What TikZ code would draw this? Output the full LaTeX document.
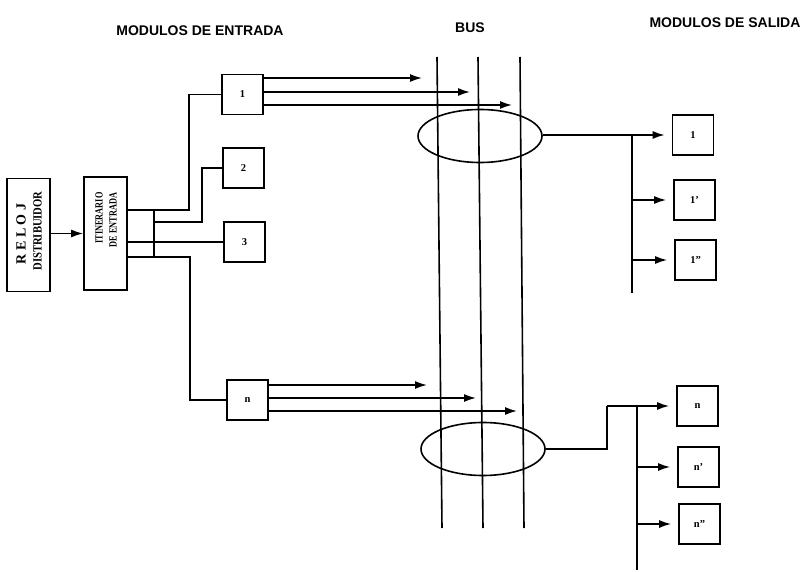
\documentclass[tikz,border=0pt]{standalone}
\usepackage{fontspec}
\setmainfont{Liberation Serif}
\newfontfamily\titlefont{Liberation Sans}
\usepackage{graphicx}
\usetikzlibrary{arrows.meta,shapes.geometric}
\begin{document}
\begin{tikzpicture}[x=1pt,y=-1pt,line width=1.6pt,
  box/.style={draw,rectangle,inner sep=0pt,minimum width=41pt,minimum height=40pt,font=\bfseries\fontsize{10.5}{12}\selectfont},
  tall/.style={draw,rectangle,inner sep=0pt,minimum width=43pt,minimum height=113pt},
  title/.style={font=\titlefont\bfseries\fontsize{14}{16}\selectfont,inner sep=0pt},
  vtext/.style={rotate=90,inner sep=0pt},
  ring/.style={draw,ellipse,inner sep=0pt,minimum width=124pt,minimum height=53pt},
  arr/.style={-{Latex[length=12pt,width=8pt]}},
  outarr/.style={arr,shorten >=7pt}]
\useasboundingbox (0,0) rectangle (801,572);

% titles
\node[title] (tin) at (200,31) {MODULOS DE ENTRADA};
\node[title] (tbus) at (470,28) {BUS};
\node[title] (tout) at (725,23) {MODULOS DE SALIDA};

% left blocks
\node[tall] (reloj) at (28.5,235) {};
\node[vtext,font=\bfseries\fontsize{14}{15}\selectfont] (rl) at (21,234) {R E L O J};
\node[vtext,font=\bfseries\fontsize{12.5}{13}\selectfont] (ds) at (37.5,231) {\scalebox{0.85}[1]{DISTRIBUIDOR}};
\node[tall] (itin) at (105.5,233.5) {};
\node[vtext,font=\bfseries\fontsize{11}{12}\selectfont] (it1) at (99,218) {\scalebox{0.75}[1]{ITINERARIO}};
\node[vtext,font=\bfseries\fontsize{11}{12}\selectfont] (it2) at (113,220) {\scalebox{0.75}[1]{DE ENTRADA}};
\draw[arr] (reloj.east |- itin) -- (itin.west);

% input modules
\node[box] (b1) at (242.5,94.5) {1};
\node[box] (b2) at (243.5,168) {2};
\node[box] (b3) at (244.5,242) {3};
\node[box] (bn) at (247.5,400) {n};

% connections from itinerario
\coordinate (j1) at (154,210);
\coordinate (j2) at (154,257);
\coordinate (k1) at (189,210);
\coordinate (k2) at (190,257);
\coordinate (m2) at (154,222);
\coordinate (k3) at (202,222);
\draw (itin.east |- j1) -- (k1) |- (b1.west);
\draw (j1) -- (j2);
\draw (itin.east |- j2) -- (k2) |- (bn.west);
\draw (m2) -- (k3) |- (b2.west);
\draw (itin.east |- b3) -- (b3.west);

% bus lines
\coordinate (bt1) at (437,57);  \coordinate (bb1) at (442,528);
\coordinate (bt2) at (478,57);  \coordinate (bb2) at (483,528);
\coordinate (bt3) at (520,57);  \coordinate (bb3) at (524,528);
\draw (bt1) -- (bb1);
\draw (bt2) -- (bb2);
\draw (bt3) -- (bb3);

% arrows to bus
\coordinate (a11) at (422,78);
\coordinate (a12) at (470,92);
\coordinate (a13) at (512,105);
\draw[arr] (b1.east |- a11) -- (a11);
\draw[arr] (b1.east |- a12) -- (a12);
\draw[arr] (b1.east |- a13) -- (a13);
\coordinate (an1) at (427,385);
\coordinate (an2) at (476,398);
\coordinate (an3) at (517,411);
\draw[arr] (bn.east |- an1) -- (an1);
\draw[arr] (bn.east |- an2) -- (an2);
\draw[arr] (bn.east |- an3) -- (an3);

% bus taps
\node[ring] (e1) at (480,136) {};
\node[ring] (e2) at (483,449) {};

% output modules top
\node[box] (o1) at (693,135) {1};
\node[box] (o1p) at (694.5,200) {1'};
\node[box] (o1pp) at (695.5,260) {1''};
\coordinate (s1) at (632,135);
\coordinate (s1b) at (632,293);
\draw[outarr] (e1.east |- o1) -- (o1.west);
\draw (s1) -- (s1b);
\draw[outarr] (s1 |- o1p) -- (o1p.west);
\draw[outarr] (s1 |- o1pp) -- (o1pp.west);

% output modules bottom
\node[box] (on) at (697.5,406) {n};
\node[box] (onp) at (698.5,467) {n'};
\node[box] (onpp) at (699.5,524) {n''};
\coordinate (u1) at (607,449);
\coordinate (u2) at (607,406);
\coordinate (s2) at (637,406);
\coordinate (s2b) at (637,570);
\draw (e2.east) -- (u1) -- (u2);
\draw[outarr] (u2) -- (on.west);
\draw (s2) -- (s2b);
\draw[outarr] (s2 |- onp) -- (onp.west);
\draw[outarr] (s2 |- onpp) -- (onpp.west);
\end{tikzpicture}
\end{document}
